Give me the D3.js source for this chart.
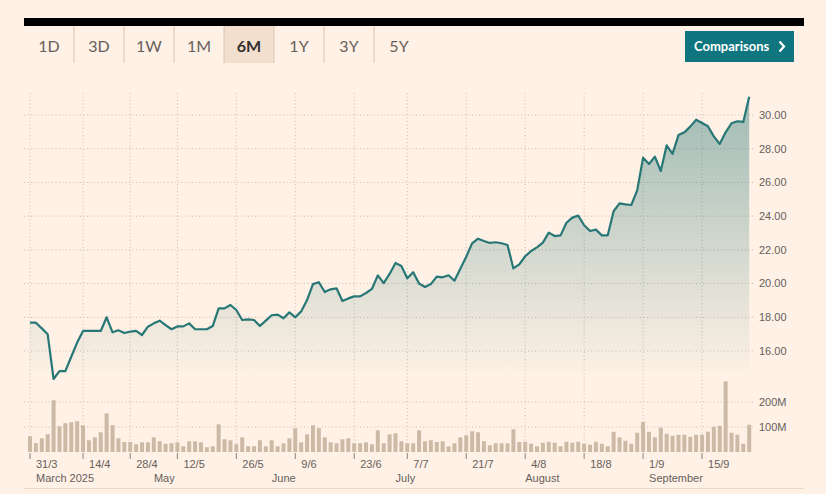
<!DOCTYPE html>
<html>
<head>
<meta charset="utf-8">
<script src="https://cdn.jsdelivr.net/npm/d3@7"></script>
<style>
  body { margin: 0; background: #fff1e5; }
  svg { display: block; }
</style>
</head>
<body>
<div id="chart"></div>
<script>
// trading days (HK calendar), 31 Mar - 25 Sep 2025
var days = [
  "31/3",
  "1/4","2/4","3/4","7/4","8/4","9/4","10/4","11/4","14/4","15/4","16/4","17/4",
  "22/4","23/4","24/4","25/4","28/4","29/4","30/4",
  "2/5","6/5","7/5","8/5","9/5","12/5","13/5","14/5","15/5","16/5","19/5","20/5",
  "21/5","22/5","23/5","26/5","27/5","28/5","29/5","30/5",
  "2/6","3/6","4/6","5/6","6/6","9/6","10/6","11/6","12/6","13/6","16/6","17/6",
  "18/6","19/6","20/6","23/6","24/6","25/6","26/6","27/6","30/6",
  "2/7","3/7","4/7","7/7","8/7","9/7","10/7","11/7","14/7","15/7","16/7","17/7",
  "18/7","21/7","22/7","23/7","24/7","25/7","28/7","29/7","30/7","31/7",
  "1/8","4/8","5/8","6/8","7/8","8/8","11/8","12/8","13/8","14/8","15/8","18/8",
  "19/8","20/8","21/8","22/8","25/8","26/8","27/8","28/8","29/8",
  "1/9","2/9","3/9","4/9","5/9","8/9","9/9","10/9","11/9","12/9","15/9","16/9",
  "17/9","18/9","19/9","22/9","23/9","24/9","25/9"
];

// closing price
var prices = [
  17.68, 17.68, 17.34, 16.99, 14.34, 14.81, 14.81, 15.66, 16.50, 17.19,
  17.19, 17.19, 17.19, 18.00, 17.11, 17.23, 17.07, 17.15, 17.19, 16.95,
  17.44, 17.64, 17.80, 17.54, 17.29, 17.46, 17.46, 17.64, 17.29, 17.29,
  17.29, 17.48, 18.53, 18.53, 18.73, 18.43, 17.84, 17.88, 17.84, 17.48,
  17.80, 18.12, 18.16, 17.94, 18.29, 18.00, 18.35, 19.02, 19.97, 20.08,
  19.50, 19.66, 19.72, 18.97, 19.12, 19.24, 19.24, 19.44, 19.68, 20.49,
  20.03, 20.57, 21.22, 21.04, 20.31, 20.67, 20.00, 19.80, 19.97, 20.41,
  20.37, 20.49, 20.17, 20.88, 21.59, 22.39, 22.66, 22.53, 22.41, 22.45,
  22.39, 22.29, 20.90, 21.14, 21.62, 21.93, 22.15, 22.43, 23.02, 22.82,
  22.86, 23.61, 23.91, 24.03, 23.46, 23.12, 23.20, 22.86, 22.86, 24.29,
  24.76, 24.70, 24.66, 25.53, 27.47, 27.09, 27.53, 26.68, 28.20, 27.69,
  28.81, 28.97, 29.31, 29.72, 29.53, 29.33, 28.73, 28.28, 28.97, 29.51,
  29.63, 29.59, 31.09
];

// volume, millions
var volumes = [
  63, 36, 55, 71, 207, 103, 115, 119, 123, 107,
  47, 59, 79, 155, 107, 55, 40, 40, 31, 39,
  39, 59, 43, 33, 35, 39, 23, 43, 43, 39,
  19, 23, 111, 51, 47, 31, 59, 23, 23, 47,
  23, 47, 23, 35, 55, 95, 39, 71, 107, 95,
  59, 39, 35, 51, 55, 35, 35, 39, 31, 87,
  35, 71, 75, 43, 35, 35, 87, 43, 47, 40,
  43, 23, 35, 59, 67, 83, 79, 43, 27, 35,
  35, 35, 91, 40, 41, 33, 23, 37, 41, 37,
  23, 41, 37, 41, 33, 29, 41, 33, 23, 81,
  59, 45, 33, 77, 121, 81, 59, 97, 73, 65,
  69, 69, 61, 69, 69, 81, 101, 105, 283, 77,
  69, 33, 109
];

var tickDays = ["31/3","14/4","28/4","12/5","26/5","9/6","23/6","7/7","21/7","4/8","18/8","1/9","15/9"];
var monthLabels = ["March 2025","May","June","July","August","September"];
var monthDays = ["31/3","2/5","2/6","2/7","1/8","1/9"];
var priceTicks = [16, 18, 20, 22, 24, 26, 28, 30];
var volumeTicks = [100, 200];
var ranges = ["1D","3D","1W","1M","6M","1Y","3Y","5Y"];
var activeRange = "6M";

var width = 826, height = 494;
var textColor = "#66605c";
var gridColor = "#c9bdb2";

var svg = d3.select("#chart")
  .append("svg")
  .attr("width", width)
  .attr("height", height)
  .style("font-family", "'Liberation Sans', Arial, sans-serif");

svg.append("rect")
  .attr("width", width)
  .attr("height", height)
  .attr("fill", "#fff1e5");

// top black rule
svg.append("rect")
  .attr("x", 24).attr("y", 18)
  .attr("width", 780).attr("height", 8)
  .attr("fill", "#000");

// range tabs
var tabs = svg.append("g").attr("class", "tabs");
tabs.selectAll("rect")
  .data(ranges.filter(d => d === activeRange))
  .enter()
  .append("rect")
  .attr("x", d => 24 + ranges.indexOf(d) * 50)
  .attr("y", 26)
  .attr("width", 50)
  .attr("height", 37)
  .attr("fill", "#f2dfce");

tabs.selectAll("line")
  .data(ranges.slice(1))
  .enter()
  .append("line")
  .attr("x1", (d, i) => 74 + i * 50)
  .attr("x2", (d, i) => 74 + i * 50)
  .attr("y1", 26)
  .attr("y2", 63)
  .attr("stroke", "#d6c6b8")
  .attr("stroke-width", 1);

tabs.selectAll("text")
  .data(ranges)
  .enter()
  .append("text")
  .attr("x", (d, i) => 49 + i * 50)
  .attr("y", 52)
  .attr("text-anchor", "middle")
  .style("font-family", "Lato, 'Open Sans', sans-serif")
  .style("font-size", "16px")
  .style("font-weight", d => d === activeRange ? 700 : 400)
  .attr("fill", d => d === activeRange ? "#33302e" : textColor)
  .text(d => d);

// comparisons button
svg.append("rect")
  .attr("x", 685).attr("y", 31)
  .attr("width", 109).attr("height", 31)
  .attr("fill", "#0f7680");
svg.append("text")
  .attr("x", 694).attr("y", 51)
  .style("font-family", "Lato, 'Open Sans', sans-serif")
  .style("font-size", "13px")
  .style("font-weight", 700)
  .attr("fill", "#fff")
  .text("Comparisons");
svg.append("path")
  .attr("d", "M779.5,41.5L784,46.5L779.5,51.5")
  .attr("fill", "none")
  .attr("stroke", "#fff")
  .attr("stroke-width", 2.2);

// scales
var x = d3.scalePoint()
  .domain(days)
  .range([30, 749.2]);

var y = d3.scaleLinear()
  .domain([16, 30])
  .range([351, 115]);

var yv = d3.scaleLinear()
  .domain([0, 200])
  .range([452, 402]);

// gradient under the price line
var defs = svg.append("defs");
var grad = defs.append("linearGradient")
  .attr("id", "areaFill")
  .attr("gradientUnits", "userSpaceOnUse")
  .attr("x1", 0).attr("x2", 0)
  .attr("y1", 96).attr("y2", 378);
grad.append("stop").attr("offset", 0).attr("stop-color", "#196f6f").attr("stop-opacity", 0.42);
grad.append("stop").attr("offset", 1).attr("stop-color", "#196f6f").attr("stop-opacity", 0);

// grid lines
var grid = svg.append("g").attr("class", "grid");
grid.selectAll("line.h")
  .data(priceTicks)
  .enter()
  .append("line")
  .attr("class", "h")
  .attr("x1", 24).attr("x2", 753)
  .attr("y1", d => y(d)).attr("y2", d => y(d));

grid.selectAll("line.hv")
  .data(volumeTicks)
  .enter()
  .append("line")
  .attr("class", "hv")
  .attr("x1", 24).attr("x2", 753)
  .attr("y1", d => yv(d)).attr("y2", d => yv(d));

grid.selectAll("line.v")
  .data(tickDays)
  .enter()
  .append("line")
  .attr("class", "v")
  .attr("x1", d => x(d)).attr("x2", d => x(d))
  .attr("y1", 93).attr("y2", 452);

grid.selectAll("line")
  .attr("stroke", gridColor)
  .attr("stroke-width", 1)
  .attr("stroke-dasharray", "1,2.5");

// price area + line
var area = d3.area()
  .x((d, i) => x(days[i]))
  .y0(378)
  .y1(d => y(d));

var line = d3.line()
  .x((d, i) => x(days[i]))
  .y(d => y(d));

svg.append("path")
  .datum(prices)
  .attr("fill", "url(#areaFill)")
  .attr("d", area);

svg.append("path")
  .datum(prices)
  .attr("fill", "none")
  .attr("stroke", "#287777")
  .attr("stroke-width", 2.2)
  .attr("stroke-linejoin", "round")
  .attr("d", line);

// volume bars
svg.append("g")
  .selectAll("rect")
  .data(volumes)
  .enter()
  .append("rect")
  .attr("x", (d, i) => x(days[i]) - 2)
  .attr("y", d => yv(d))
  .attr("width", 4)
  .attr("height", d => yv(0) - yv(d))
  .attr("fill", "#cdbaa6");

// right axis labels
svg.append("g")
  .selectAll("text")
  .data(priceTicks)
  .enter()
  .append("text")
  .attr("x", 759)
  .attr("y", d => y(d))
  .attr("dy", "0.35em")
  .style("font-size", "11px")
  .attr("fill", textColor)
  .text(d => d3.format(".2f")(d));

svg.append("g")
  .selectAll("text")
  .data(volumeTicks)
  .enter()
  .append("text")
  .attr("x", 759)
  .attr("y", d => yv(d))
  .attr("dy", "0.35em")
  .style("font-size", "11px")
  .attr("fill", textColor)
  .text(d => d + "M");

// bottom axis
var xAxis = svg.append("g");
xAxis.selectAll("line")
  .data(tickDays)
  .enter()
  .append("line")
  .attr("x1", d => x(d)).attr("x2", d => x(d))
  .attr("y1", 453).attr("y2", 459)
  .attr("stroke", "#8a837d")
  .attr("stroke-width", 1);

xAxis.selectAll("text.day")
  .data(tickDays)
  .enter()
  .append("text")
  .attr("class", "day")
  .attr("x", d => x(d) + 6)
  .attr("y", 468)
  .style("font-size", "11px")
  .attr("fill", textColor)
  .text(d => d);

xAxis.selectAll("text.month")
  .data(monthLabels)
  .enter()
  .append("text")
  .attr("class", "month")
  .attr("x", (d, i) => x(monthDays[i]) + 6)
  .attr("y", 482)
  .style("font-size", "11px")
  .attr("fill", textColor)
  .text(d => d);

// bottom rule
svg.append("line")
  .attr("x1", 24).attr("x2", 804)
  .attr("y1", 488.5).attr("y2", 488.5)
  .attr("stroke", "#e8d9cb")
  .attr("stroke-width", 1);
</script>
</body>
</html>
